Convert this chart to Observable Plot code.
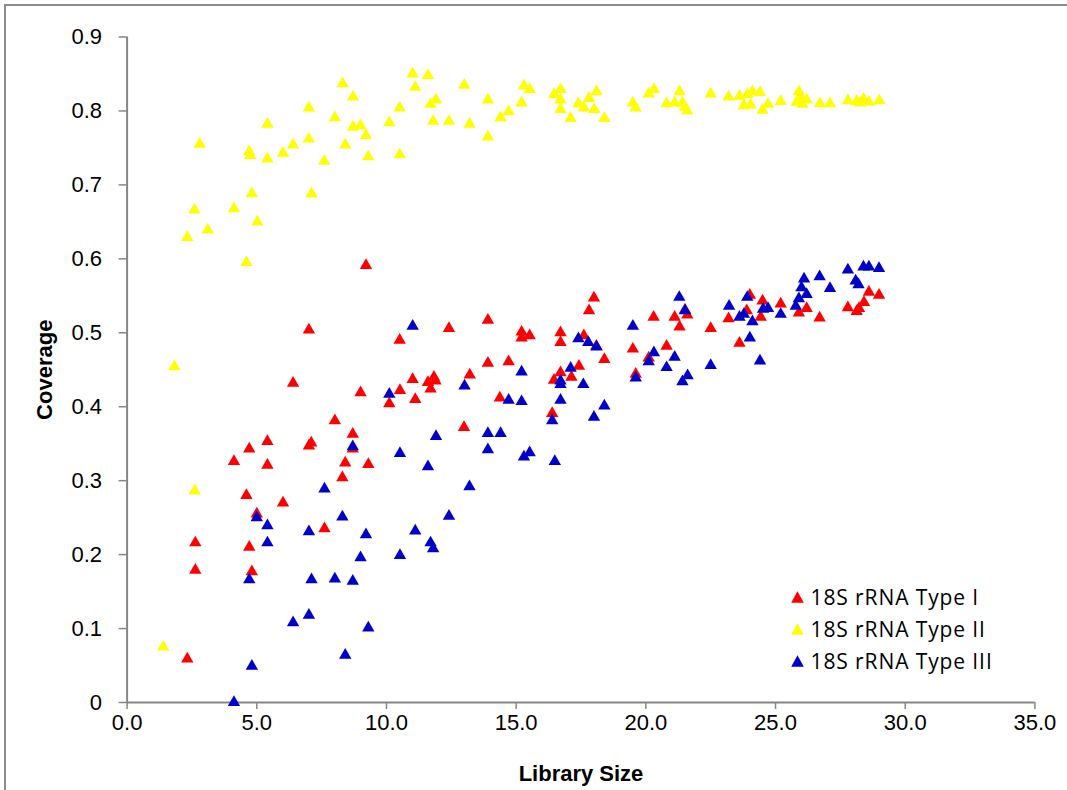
<!DOCTYPE html>
<html>
<head>
<meta charset="utf-8">
<script src="https://cdn.jsdelivr.net/npm/d3@7"></script>
<script src="https://cdn.jsdelivr.net/npm/@observablehq/plot@0.6"></script>
<style>
  html, body { margin: 0; padding: 0; background: #fff; }
  #wrap { position: relative; width: 1067px; height: 790px; overflow: hidden; }
  #frame { position: absolute; left: 4px; top: 4px; width: 1100px; height: 820px; border: 2px solid #8c8c8c; box-sizing: border-box; }
  #chart { position: absolute; left: 0; top: 0; }
  #legend { position: absolute; left: 790.5px; top: 581px; font-family: "Open Sans", "Noto Sans", sans-serif; font-size: 21px; letter-spacing: 0.9px; color: #000; }
  #legend .row { display: flex; align-items: center; height: 32.2px; }
  #legend svg { margin-right: 7px; }
</style>
</head>
<body>
<div id="wrap">
  <div id="frame"></div>
  <div id="chart"></div>
  <div id="legend"></div>
</div>
<script>
// Series labels and colours
const seriesNames = ["18S rRNA Type I", "18S rRNA Type II", "18S rRNA Type III"];
const seriesColors = ["#ff0000", "#ffff00", "#0000cc"];

// Axis ticks
const xTicks = [0, 5, 10, 15, 20, 25, 30, 35];
const yTicks = [0, 0.1, 0.2, 0.3, 0.4, 0.5, 0.6, 0.7, 0.8, 0.9];

// [library size, coverage]
const typeI = [[7.01,0.504],[10.51,0.490],[12.41,0.506],[6.40,0.432],[9.00,0.419],[10.11,0.404],[10.52,0.422],[11.01,0.437],[11.11,0.410],[11.60,0.433],[11.83,0.440],[11.70,0.424],[11.89,0.435],[8.01,0.381],[8.70,0.363],[8.70,0.343],[5.41,0.353],[4.71,0.343],[4.12,0.326],[5.41,0.321],[7.01,0.347],[7.10,0.351],[8.41,0.324],[9.30,0.322],[8.30,0.304],[12.99,0.372],[4.60,0.280],[6.01,0.270],[5.00,0.255],[2.63,0.216],[2.63,0.179],[4.71,0.210],[4.81,0.177],[7.61,0.235],[2.32,0.059],[9.21,0.591],[13.91,0.517],[18.00,0.547],[17.81,0.530],[15.21,0.501],[15.52,0.496],[15.21,0.493],[16.71,0.500],[16.71,0.487],[17.61,0.496],[18.09,0.482],[18.40,0.464],[19.50,0.478],[20.30,0.521],[20.80,0.482],[20.11,0.466],[21.11,0.521],[21.51,0.531],[21.60,0.524],[21.30,0.508],[22.50,0.506],[23.19,0.519],[23.61,0.486],[24.01,0.551],[24.50,0.543],[24.43,0.521],[23.89,0.530],[25.20,0.539],[13.91,0.459],[14.71,0.461],[13.21,0.443],[14.37,0.412],[16.46,0.436],[16.71,0.446],[17.13,0.440],[17.42,0.455],[19.61,0.444],[16.39,0.391],[25.90,0.527],[26.20,0.533],[26.70,0.520],[27.79,0.534],[28.13,0.529],[28.22,0.533],[28.41,0.541],[28.60,0.555],[28.99,0.551]];

const typeII = [[2.80,0.755],[2.60,0.666],[2.32,0.629],[3.11,0.639],[4.60,0.595],[4.12,0.668],[4.81,0.688],[5.02,0.650],[4.71,0.745],[4.75,0.740],[5.41,0.782],[5.41,0.735],[6.01,0.743],[6.40,0.754],[7.01,0.804],[7.01,0.762],[7.11,0.688],[7.60,0.732],[8.01,0.791],[8.31,0.837],[8.71,0.819],[8.71,0.778],[9.00,0.780],[9.21,0.767],[8.41,0.754],[9.30,0.738],[10.11,0.784],[10.51,0.804],[10.51,0.741],[11.01,0.850],[11.11,0.832],[11.60,0.848],[11.70,0.809],[11.91,0.815],[11.80,0.786],[12.41,0.786],[13.00,0.835],[13.20,0.782],[13.91,0.815],[13.91,0.765],[14.40,0.791],[14.71,0.799],[15.21,0.811],[15.30,0.834],[15.52,0.829],[16.46,0.822],[16.71,0.829],[16.71,0.815],[16.71,0.802],[17.10,0.790],[17.40,0.810],[17.61,0.804],[17.81,0.817],[18.01,0.802],[18.10,0.826],[18.40,0.790],[19.50,0.811],[19.61,0.804],[20.11,0.823],[20.31,0.829],[20.80,0.810],[21.11,0.811],[21.30,0.826],[21.41,0.811],[21.51,0.805],[21.60,0.800],[22.50,0.823],[23.19,0.819],[23.61,0.820],[23.78,0.807],[23.91,0.822],[24.04,0.808],[24.11,0.826],[24.40,0.825],[24.50,0.801],[24.71,0.809],[25.20,0.813],[25.90,0.826],[25.82,0.812],[26.03,0.809],[26.20,0.815],[25.95,0.820],[26.71,0.810],[27.10,0.810],[27.79,0.814],[28.13,0.813],[28.26,0.811],[28.39,0.816],[28.60,0.812],[29.00,0.814],[1.82,0.454],[2.61,0.286],[1.40,0.075]];

const typeIII = [[11.01,0.509],[10.11,0.417],[13.01,0.428],[11.91,0.360],[8.70,0.346],[10.52,0.337],[11.60,0.319],[7.61,0.289],[8.30,0.251],[12.41,0.252],[5.00,0.250],[5.41,0.239],[5.41,0.216],[7.01,0.231],[9.21,0.227],[11.11,0.232],[11.70,0.216],[11.80,0.208],[9.00,0.196],[10.52,0.199],[4.71,0.166],[7.11,0.166],[8.01,0.167],[8.70,0.164],[6.40,0.108],[7.01,0.118],[9.30,0.101],[8.41,0.064],[4.81,0.049],[4.12,0.000],[21.29,0.548],[21.51,0.530],[19.50,0.509],[23.21,0.536],[23.91,0.548],[23.61,0.521],[23.78,0.525],[24.11,0.515],[24.52,0.532],[24.71,0.533],[25.20,0.525],[24.01,0.493],[24.40,0.462],[17.40,0.492],[17.78,0.487],[18.10,0.481],[20.31,0.473],[20.11,0.461],[21.11,0.467],[20.80,0.453],[22.50,0.456],[21.61,0.442],[21.41,0.434],[19.61,0.439],[15.21,0.447],[17.10,0.452],[16.71,0.435],[16.71,0.430],[17.59,0.430],[14.71,0.409],[15.21,0.407],[16.71,0.409],[18.40,0.401],[18.00,0.386],[16.39,0.381],[13.91,0.364],[14.40,0.364],[13.91,0.342],[15.30,0.332],[15.52,0.338],[16.49,0.326],[13.20,0.292],[26.10,0.573],[26.70,0.576],[27.79,0.585],[28.39,0.589],[28.60,0.589],[28.99,0.587],[27.10,0.560],[28.09,0.570],[28.20,0.565],[26.00,0.561],[26.20,0.552],[25.90,0.546],[25.78,0.536]];

const allSeries = [typeI, typeII, typeIII];
const axisColor = "#868686";
const font = "Liberation Sans, Arial, sans-serif";

const dotMarks = allSeries.map((s, i) =>
  Plot.dot(s, { x: d => d[0], y: d => d[1], symbol: "triangle", r: 4.6, fill: seriesColors[i], stroke: "none" })
);

const chart = Plot.plot({
  width: 1067,
  height: 790,
  marginLeft: 126.6,
  marginRight: 32.6,
  marginTop: 36.5,
  marginBottom: 88,
  style: { background: "transparent", overflow: "visible" },
  x: { domain: [0, 35] },
  y: { domain: [0, 0.9] },
  marks: [
    Plot.axisY({ ticks: yTicks, tickSize: 8, tickPadding: 17, stroke: axisColor, strokeWidth: 1.5, fill: "#000",
      tickFormat: d => d === 0 ? "0" : d.toFixed(1), fontSize: 22, fontFamily: font, label: null }),
    Plot.axisX({ ticks: xTicks, tickSize: 7, tickPadding: 5, stroke: axisColor, strokeWidth: 1.5, fill: "#000",
      tickFormat: d => d.toFixed(1), fontSize: 22, fontFamily: font, label: null }),
    Plot.ruleX([0], { stroke: axisColor, strokeWidth: 2 }),
    Plot.ruleY([0], { stroke: axisColor, strokeWidth: 2 }),
    ...dotMarks,
    Plot.text(["Library Size"], { frameAnchor: "bottom", textAnchor: "middle", dy: 78, fontSize: 22, fontWeight: "bold", fontFamily: font, fill: "#000" }),
    Plot.text(["Coverage"], { frameAnchor: "left", textAnchor: "middle", dx: -82, rotate: -90, fontSize: 22, fontWeight: "bold", fontFamily: font, fill: "#000" })
  ]
});
document.getElementById("chart").appendChild(chart);

// Legend
const legend = document.getElementById("legend");
seriesNames.forEach((name, i) => {
  const row = document.createElement("div");
  row.className = "row";
  row.innerHTML = `<svg width="13" height="12" viewBox="0 0 13 12"><path d="M6.5 0.3 L12.8 11.7 L0.2 11.7 Z" fill="${seriesColors[i]}"/></svg><span>${name}</span>`;
  legend.appendChild(row);
});
</script>
</body>
</html>
